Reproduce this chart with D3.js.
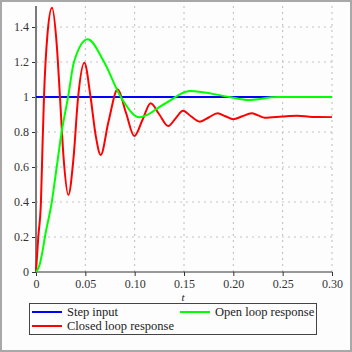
<!DOCTYPE html>
<html><head><meta charset="utf-8">
<script src="https://cdn.jsdelivr.net/npm/d3@7"></script>
<style>body{margin:0;background:#fff}svg{display:block}</style>
</head><body>
<script>
const xTicks = [0, 0.05, 0.10, 0.15, 0.20, 0.25, 0.30];
const xTickLabels = ["0", "0.05", "0.10", "0.15", "0.20", "0.25", "0.30"];
const yTicks = [0, 0.2, 0.4, 0.6, 0.8, 1, 1.2, 1.4];
const yTickLabels = ["0", "0.2", "0.4", "0.6", "0.8", "1", "1.2", "1.4"];

const stepT = [0, 0.30];
const stepY = [1, 1];

const closedT = [0, 0.0023, 0.005, 0.0065, 0.0081, 0.0115, 0.0162, 0.021, 0.0243, 0.028, 0.0328, 0.038, 0.0427, 0.049, 0.0553, 0.0605, 0.0656, 0.0735, 0.0828, 0.0912, 0.0996, 0.108, 0.1162, 0.125, 0.134, 0.1415, 0.149, 0.157, 0.166, 0.175, 0.184, 0.192, 0.200, 0.209, 0.2186, 0.225, 0.232, 0.25, 0.265, 0.28, 0.30];
const closedY = [0, 0.2, 0.4, 0.7, 1.0, 1.35, 1.51, 1.30, 1.0, 0.65, 0.44, 0.65, 1.0, 1.196, 1.0, 0.78, 0.669, 0.86, 1.044, 0.91, 0.777, 0.87, 0.964, 0.90, 0.834, 0.878, 0.922, 0.89, 0.859, 0.883, 0.907, 0.89, 0.873, 0.89, 0.907, 0.895, 0.882, 0.889, 0.893, 0.886, 0.885];

const openT = [0, 0.003, 0.006, 0.009, 0.016, 0.021, 0.026, 0.0325, 0.0385, 0.0524, 0.069, 0.086, 0.105, 0.13, 0.156, 0.196, 0.215, 0.245, 0.30];
const openY = [0, 0.03, 0.1, 0.2, 0.4, 0.6, 0.8, 1.0, 1.2, 1.33, 1.2, 1.0, 0.884, 0.96, 1.034, 1.0, 0.983, 1.0, 1.0];

const seriesNames = ["Step input", "Closed loop response", "Open loop response"];
const seriesColors = ["#0000ff", "#ff0000", "#00ff00"];

const W = 352, H = 352;
const svg = d3.select("body").append("svg").attr("width", W).attr("height", H);
svg.append("rect").attr("x", 0).attr("y", 0).attr("width", W).attr("height", H).attr("fill", "#fdfdfd");
svg.append("rect").attr("x", 1).attr("y", 1).attr("width", W - 2).attr("height", H - 2)
  .attr("fill", "none").attr("stroke", "#a8a8a8").attr("stroke-width", 2);

const x = d3.scaleLinear().domain([0, 0.30]).range([36, 332]);
const y = d3.scaleLinear().domain([0, 1]).range([272, 97]);
const yTop = 6;

const font = "'Liberation Serif', 'Times New Roman', serif";

// grid
const g = svg.append("g");
g.selectAll(".gx").data(xTicks.slice(1)).join("line")
  .attr("x1", d => x(d)).attr("x2", d => x(d)).attr("y1", 272).attr("y2", yTop)
  .attr("stroke", "#c4b8b8").attr("stroke-width", 1).attr("stroke-dasharray", "2,4");
g.selectAll(".gy").data(yTicks.slice(1)).join("line")
  .attr("x1", 36).attr("x2", 332).attr("y1", d => y(d)).attr("y2", d => y(d))
  .attr("stroke", "#c4c4c4").attr("stroke-width", 1).attr("stroke-dasharray", "2,4");

// axes
const xAxis = d3.axisBottom(x).tickValues(xTicks).tickFormat((d, i) => xTickLabels[i]).tickSize(4).tickSizeOuter(0);
const yAxis = d3.axisLeft(y).tickValues(yTicks).tickFormat((d, i) => yTickLabels[i]).tickSize(4).tickSizeOuter(0);
const gx = svg.append("g").attr("transform", "translate(0,272)").call(xAxis);
const gy = svg.append("g").attr("transform", "translate(36,0)").call(yAxis);
gy.select(".domain").remove();
gx.select(".domain").remove();
svg.append("line").attr("x1", 36).attr("x2", 36).attr("y1", 272).attr("y2", yTop).attr("stroke", "#7a7a7a").attr("stroke-width", 2);
svg.append("line").attr("x1", 35).attr("x2", 332).attr("y1", 272).attr("y2", 272).attr("stroke", "#333").attr("stroke-width", 1);
[gx, gy].forEach(a => {
  a.selectAll("text").attr("font-family", font).attr("font-size", 12).attr("fill", "#333");
  a.selectAll(".tick line").attr("stroke", "#333");
});

svg.append("text").attr("x", 183).attr("y", 301).attr("text-anchor", "middle")
  .attr("font-family", font).attr("font-style", "italic").attr("font-size", 11).attr("fill", "#222").text("t");

// lines
const line = d3.line().x(d => x(d[0])).y(d => y(d[1])).curve(d3.curveMonotoneX);
const plot = svg.append("g");
const series = [
  d3.zip(stepT, stepY),
  d3.zip(closedT, closedY),
  d3.zip(openT, openY)
];
series.forEach((s, i) => {
  plot.append("path").attr("d", line(s)).attr("fill", "none")
    .attr("stroke", seriesColors[i]).attr("stroke-width", 2).attr("stroke-linejoin", "round");
});

// legend
const lg = svg.append("g");
lg.append("rect").attr("x", 29.5).attr("y", 303.5).attr("width", 287).attr("height", 31)
  .attr("fill", "#fdfdfd").attr("stroke", "#444").attr("stroke-width", 1);
const legendPos = [[32, 312], [32, 326], [180, 312]];
seriesNames.forEach((n, i) => {
  const [lx, ly] = legendPos[i];
  lg.append("line").attr("x1", lx).attr("x2", lx + 30).attr("y1", ly).attr("y2", ly)
    .attr("stroke", seriesColors[i]).attr("stroke-width", 2);
  lg.append("text").attr("x", lx + 35).attr("y", ly + 4).attr("font-family", font)
    .attr("font-size", 12.5).attr("fill", "#222").text(n);
});
</script>
</body></html>
